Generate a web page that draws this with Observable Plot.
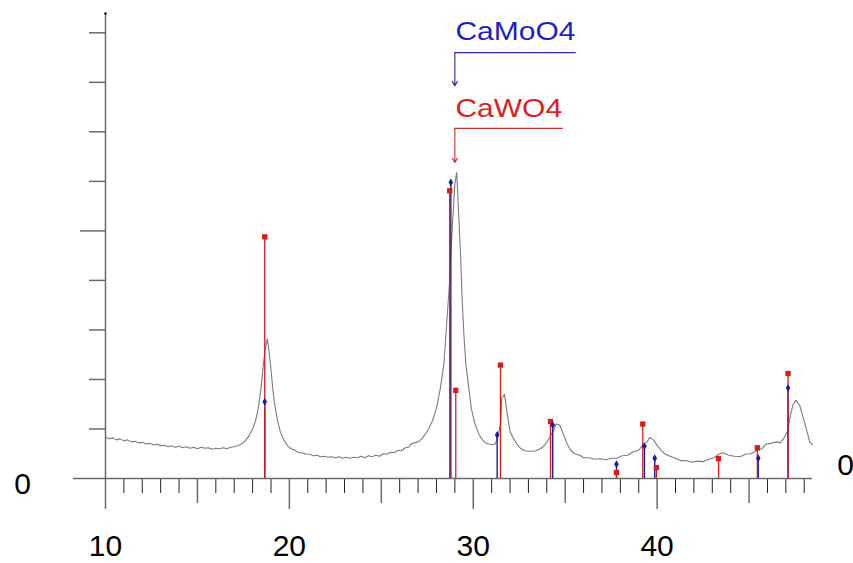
<!DOCTYPE html>
<html><head><meta charset="utf-8">
<script src="https://cdn.jsdelivr.net/npm/d3@7"></script>
<script src="https://cdn.jsdelivr.net/npm/@observablehq/plot@0.6"></script>
<style>body{margin:0;background:#fff;} #chart svg{display:block;}</style>
</head><body><div id="chart"></div>
<script>
// Measured XRD scan (2θ, intensity in axis-tick units)
const scanAngle = [10.0,10.2,10.4,10.6,10.8,11.0,11.2,11.4,11.6,11.8,12.0,12.2,12.4,12.6,12.8,13.0,13.2,13.4,13.6,13.8,14.0,14.2,14.4,14.6,14.8,15.0,15.2,15.4,15.6,15.8,16.0,16.2,16.4,16.6,16.8,17.0,17.2,17.4,17.6,17.8,18.0,18.15,18.3,18.45,18.6,18.7,18.8,18.9,19.0,19.1,19.2,19.35,19.5,19.7,19.9,20.1,20.3,20.5,20.7,20.9,21.1,21.3,21.5,21.7,21.9,22.1,22.3,22.5,22.7,22.9,23.1,23.3,23.5,23.7,23.9,24.1,24.3,24.5,24.7,24.9,25.1,25.3,25.5,25.7,25.9,26.1,26.3,26.5,26.6,26.8,27.0,27.2,27.4,27.6,27.8,28.0,28.2,28.4,28.55,28.7,28.85,29.0,29.1,29.2,29.3,29.4,29.5,29.6,29.75,29.9,30.1,30.3,30.5,30.7,30.9,31.05,31.2,31.35,31.5,31.55,31.7,31.85,32.0,32.2,32.4,32.6,32.8,33.0,33.2,33.4,33.6,33.8,34.0,34.2,34.4,34.5,34.7,34.9,35.1,35.3,35.5,35.8,36.0,36.3,36.6,36.9,37.2,37.5,37.8,38.1,38.4,38.7,39.0,39.2,39.45,39.6,39.8,40.0,40.2,40.4,40.7,41.0,41.3,41.6,41.9,42.2,42.5,42.8,43.1,43.35,43.6,43.9,44.2,44.5,44.8,45.1,45.4,45.7,45.9,46.2,46.5,46.7,46.9,47.1,47.25,47.4,47.55,47.75,47.95,48.15,48.3,48.45];
const scanIntensity = [0.84,0.80,0.82,0.78,0.80,0.76,0.78,0.74,0.75,0.72,0.73,0.70,0.71,0.68,0.69,0.66,0.67,0.64,0.66,0.63,0.65,0.62,0.64,0.61,0.63,0.60,0.63,0.61,0.62,0.59,0.61,0.60,0.62,0.60,0.63,0.64,0.66,0.70,0.76,0.86,1.00,1.15,1.40,1.80,2.35,2.65,2.82,2.55,2.20,1.80,1.50,1.18,0.95,0.78,0.66,0.60,0.57,0.52,0.52,0.49,0.49,0.46,0.47,0.44,0.45,0.43,0.44,0.42,0.44,0.41,0.43,0.41,0.43,0.42,0.45,0.42,0.46,0.44,0.47,0.45,0.50,0.49,0.53,0.52,0.57,0.56,0.62,0.63,0.69,0.72,0.74,0.80,0.90,1.02,1.18,1.42,1.80,2.30,3.10,3.90,5.00,5.95,6.18,5.40,4.60,3.60,2.85,2.30,1.85,1.40,1.10,0.90,0.78,0.71,0.69,0.68,0.70,0.86,1.15,1.62,1.70,1.30,0.95,0.80,0.68,0.60,0.56,0.55,0.55,0.56,0.59,0.64,0.73,0.86,0.99,1.10,1.08,0.90,0.70,0.57,0.50,0.47,0.42,0.42,0.39,0.40,0.38,0.41,0.41,0.46,0.47,0.54,0.57,0.67,0.74,0.83,0.78,0.67,0.58,0.50,0.45,0.41,0.36,0.36,0.33,0.35,0.34,0.39,0.42,0.49,0.52,0.47,0.45,0.44,0.49,0.50,0.56,0.60,0.69,0.71,0.74,0.72,0.82,0.96,1.28,1.50,1.58,1.48,1.22,0.95,0.74,0.68,0.66];

// Reference stick patterns
const cawo4Angle = [18.66, 28.72, 29.05, 31.48, 34.20, 37.79, 39.22, 39.96, 43.34, 45.45, 47.12];
const cawo4Intensity = [4.88, 5.81, 1.78, 2.29, 1.15, 0.12, 1.10, 0.22, 0.40, 0.62, 2.12];
const camoo4Angle = [18.66, 28.78, 31.30, 34.32, 37.79, 39.31, 39.87, 45.50, 47.12];
const camoo4Intensity = [1.55, 5.98, 0.88, 1.08, 0.29, 0.65, 0.41, 0.41, 1.83];

// Phase labels with leader arrows
const phaseNames = ["CaMoO4", "CaWO4"];
const phaseLabelAngle = [29.03, 29.03];
const phaseLabelLevel = [8.86, 7.29];
const leaderLevel = [8.60, 7.07];
const leaderEndAngle = [35.6, 34.9];
const arrowAngle = [29.0, 29.0];
const arrowTipLevel = [7.93, 6.38];

// Axis ticks
const xMajorTicks = [10, 20, 30, 40];
const xMidTicks = [15, 25, 35, 45];
const xMinorTicks = [11,12,13,14,16,17,18,19,21,22,23,24,26,27,28,29,31,32,33,34,36,37,38,39,41,42,43,44,46,47,48];
const yTicks = [1, 2, 3, 4, 6, 7, 8, 9];
const yLongTicks = [5];

const RED = "#d81c1c", BLUE = "#1a1aa8";
const phaseColor = ["#1f1fc8", "#e01e1e"];
const leaderColor = ["#2a2a9c", "#c83030"];

const scan = scanAngle.map((a, i) => ({a, v: scanIntensity[i]}));
const wo = cawo4Angle.map((a, i) => ({a, v: cawo4Intensity[i]}));
const mo = camoo4Angle.map((a, i) => ({a, v: camoo4Intensity[i]}));
const labels = phaseNames.map((name, i) => ({
  name, x: phaseLabelAngle[i], y: phaseLabelLevel[i], ly: leaderLevel[i],
  lx2: leaderEndAngle[i], ax: arrowAngle[i], ay: arrowTipLevel[i],
  color: phaseColor[i], lcolor: leaderColor[i]
}));

const chart = Plot.plot({
  width: 853, height: 563,
  marginLeft: 105, marginRight: 41, marginTop: 13, marginBottom: 85,
  style: {fontFamily: "'Liberation Sans', Arial, sans-serif", background: "#fff"},
  x: {domain: [10, 48.45]},
  y: {domain: [0, 9.39]},
  marks: [
    Plot.axisY(yTicks, {tickSize: 16, tickFormat: () => "", stroke: "#6a6a6a", strokeWidth: 1.5}),
    Plot.axisY(yLongTicks, {tickSize: 25, tickFormat: () => "", stroke: "#6a6a6a", strokeWidth: 1.5}),
    Plot.axisX(xMinorTicks, {tickSize: 15, tickFormat: () => "", stroke: "#202020", strokeWidth: 1}),
    Plot.axisX(xMidTicks, {tickSize: 25, tickFormat: () => "", stroke: "#6a6a6a", strokeWidth: 1.5}),
    Plot.axisX(xMajorTicks, {tickSize: 31, tickPadding: 25, fontSize: 30, stroke: "#6a6a6a", strokeWidth: 1.5, fill: "#000", tickFormat: d => String(d)}),
    Plot.ruleX([10], {stroke: "#6a6a6a", strokeWidth: 1.5}),
    Plot.ruleY([0], {stroke: "#6a6a6a", strokeWidth: 1.5, insetLeft: -32}),
    Plot.dot([{a: 10, v: 9.39}], {x: "a", y: "v", r: 1.2, fill: "#000"}),
    Plot.text(["0"], {frameAnchor: "bottom-left", textAnchor: "middle", dx: -83, dy: 15, fontSize: 30, fill: "#000"}),
    Plot.text(["0"], {frameAnchor: "bottom-right", textAnchor: "middle", dx: 33, dy: -4, fontSize: 30, fill: "#000"}),
    Plot.line(scan, {x: "a", y: "v", stroke: "#7c7c7c", strokeWidth: 1.1}),
    Plot.ruleX(mo, {x: "a", y1: 0, y2: "v", stroke: BLUE, strokeWidth: 1.4}),
    Plot.ruleX(wo, {x: "a", y1: 0, y2: "v", stroke: RED, strokeWidth: 1.3}),
    Plot.dot(wo, {x: "a", y: "v", symbol: "square", r: 3, fill: RED}),
    Plot.dot(mo, {x: "a", y: "v", symbol: "diamond", r: 2.4, fill: BLUE}),
    Plot.ruleY(labels, {y: "ly", x1: "ax", x2: "lx2", stroke: "lcolor", strokeWidth: 1.2}),
    Plot.arrow(labels, {x1: "ax", y1: "ly", x2: "ax", y2: "ay", stroke: "lcolor", strokeWidth: 1.1, headLength: 7, bend: 0}),
    Plot.text(labels, {x: "x", y: "y", text: "name", fill: "color", fontSize: 25, textAnchor: "start", lineAnchor: "bottom"})
  ]
});
document.getElementById("chart").appendChild(chart);
// horizontal stretch of the phase labels, as in the original bitmap
chart.querySelectorAll("text").forEach(t => {
  if (!/^Ca/.test(t.textContent)) return;
  const len = t.getComputedTextLength();
  if (len > 0) { t.setAttribute("textLength", (len * 1.2).toFixed(1)); t.setAttribute("lengthAdjust", "spacingAndGlyphs"); }
});
</script>
</body></html>
